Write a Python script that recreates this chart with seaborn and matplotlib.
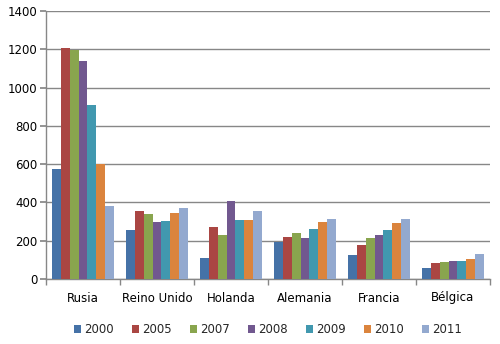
import matplotlib
matplotlib.use("Agg")
import matplotlib.pyplot as plt
import seaborn as sns
import pandas as pd

countries = ["Rusia", "Reino Unido", "Holanda", "Alemania", "Francia", "Bélgica"]
years = ["2000", "2005", "2007", "2008", "2009", "2010", "2011"]
v2000 = [575, 254, 108, 191, 123, 56]
v2005 = [1205, 353, 270, 217, 176, 82]
v2007 = [1198, 337, 228, 238, 212, 89]
v2008 = [1137, 296, 405, 212, 228, 94]
v2009 = [908, 301, 306, 259, 254, 94]
v2010 = [600, 343, 306, 296, 290, 104]
v2011 = [382, 369, 353, 316, 316, 130]
colors = ["#4572A7", "#AA4643", "#89A54E", "#71588F", "#4198AF", "#DB843D", "#93A9CF"]

series = [v2000, v2005, v2007, v2008, v2009, v2010, v2011]
rows = []
for y, vals in zip(years, series):
    for c, v in zip(countries, vals):
        rows.append({"pais": c, "anio": y, "valor": v})
df = pd.DataFrame(rows)

sns.set_theme(style="white")
plt.rcParams["font.family"] = ["DejaVu Sans"]

fig = plt.figure(figsize=(5.0, 3.44), dpi=100)
ax = fig.add_axes([46 / 500, 1 - 279 / 344, 444 / 500, 268 / 344])
sns.barplot(data=df, x="pais", y="valor", hue="anio", order=countries,
            hue_order=years, palette=colors, width=0.84, saturation=1,
            linewidth=0, ax=ax, zorder=3)

ax.set_ylim(0, 1400)
ax.set_yticks(range(0, 1401, 200))
ax.set_xlim(-0.5, len(countries) - 0.5)
ax.yaxis.grid(True, color="#878787", linewidth=1)
ax.set_axisbelow(True)
ax.set_xlabel("")
ax.set_ylabel("")
for s in ["top", "right"]:
    ax.spines[s].set_visible(False)
for s in ["left", "bottom"]:
    ax.spines[s].set_color("#878787")
    ax.spines[s].set_linewidth(1)

ax.tick_params(axis="y", which="major", left=True, length=4, color="#878787",
               labelsize=8.5, pad=2)
ax.tick_params(axis="x", which="major", bottom=False, length=0, labelsize=8.5, pad=9)
ax.set_xticks(range(len(countries)))
ax.set_xticklabels(countries)
ax.set_xticks([i + 0.5 for i in range(-1, len(countries))], minor=True)
ax.tick_params(axis="x", which="minor", bottom=True, length=4, width=1,
               color="#878787", direction="out")
for lbl in ax.get_xticklabels() + ax.get_yticklabels():
    lbl.set_color("#000000")

leg = ax.legend(loc="upper center", bbox_to_anchor=(0.5, -0.125), ncol=7,
                frameon=False, fontsize=8.5, handlelength=0.6, handleheight=0.6,
                handletextpad=0.3, columnspacing=1.5)

fig.savefig("out.png", dpi=100)
